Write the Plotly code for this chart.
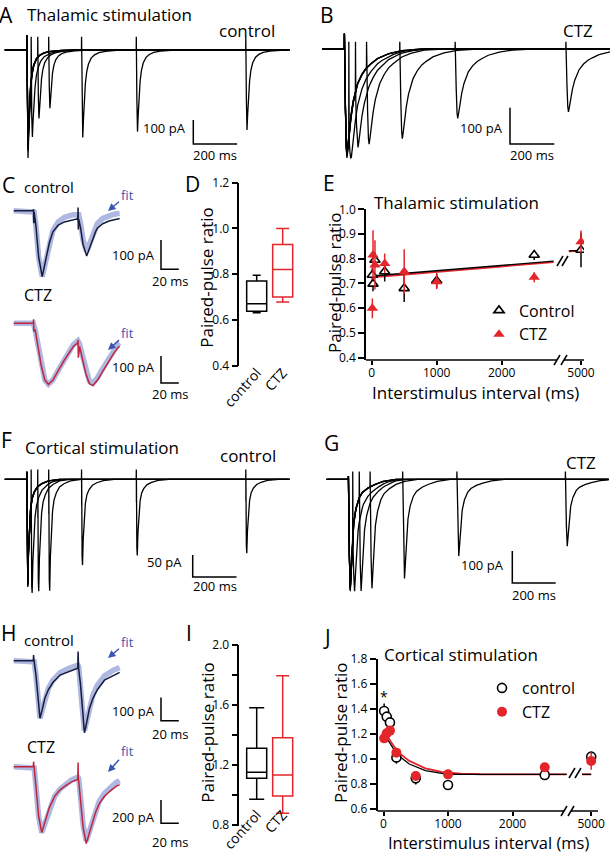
import numpy as np
import plotly.graph_objects as go

W, H = 610, 853
FONT = "Open Sans"
RED = "#e3262b"
CTL_TRACE = "#161c3c"
CTZ_TRACE = "#c0253d"
FIT_COLOR = "#afb8e0"
FIT_TEXT = "#3b55b0"

# ---------------- data ----------------
sweep_intervals = [20, 50, 100, 250, 500, 1000]  # ms (A, B, F, G)
A_amp1 = [450, 420, 400, 380, 410, 390]
A_amp2 = [260, 258, 236, 365, 340, 333]
B_amp1 = [290, 300, 285, 295, 290, 292]
B_amp2 = [120, 175, 218, 243, 191, 173]
F_amp1 = [240, 230, 245, 238, 242, 236]
F_amp2 = [215, 240, 250, 195, 173, 168]
G_amp1 = [344, 350, 340, 345, 338, 342]
G_amp2 = [230, 300, 320, 310, 240, 209]

pair_stims = [0, 50]  # ms (C, H)
C_ctl_amps = [225, 132]
C_ctz_amps = [226, 190]
H_ctl_amps = [247, 285]
H_ctz_amps = [566, 572]

# EPSC shapes: ms after stimulus, fraction of peak
thal_ctl_t = [0, 1, 3, 6, 9, 13, 18, 24, 32, 45, 60, 80, 110, 160, 220]
thal_ctl_f = [0, 0.05, 0.6, 1.0, 0.8, 0.55, 0.38, 0.25, 0.16, 0.09, 0.055, 0.03, 0.015, 0.005, 0]
thal_ctz_t = [0, 2, 5, 9, 12, 16, 22, 30, 40, 60, 80, 100, 120, 150, 200, 260, 350]
thal_ctz_f = [0, 0.15, 0.55, 0.92, 1.0, 0.93, 0.8, 0.64, 0.5, 0.33, 0.24, 0.18, 0.14, 0.09, 0.045, 0.015, 0]
cort_ctl_t = [0, 1, 3, 5, 8, 12, 18, 25, 35, 50, 70, 100, 150]
cort_ctl_f = [0, 0.3, 0.9, 1.0, 0.7, 0.45, 0.28, 0.18, 0.12, 0.07, 0.04, 0.015, 0]
cort_ctz_t = [0, 2, 5, 9, 13, 18, 25, 35, 50, 65, 90, 120, 160, 220]
cort_ctz_f = [0, 0.2, 0.7, 1.0, 0.85, 0.6, 0.4, 0.27, 0.17, 0.12, 0.08, 0.05, 0.02, 0]

Cc_t = [0, 1, 3, 6, 10, 14, 18, 22, 28, 35, 45, 55, 70, 90, 120]
Cc_f = [0, 0.02, 0.24, 0.7, 1.0, 0.75, 0.49, 0.32, 0.22, 0.17, 0.13, 0.11, 0.08, 0.05, 0.02]
Cc_fit = [0, 0.02, 0.24, 0.7, 1.0, 0.78, 0.5, 0.3, 0.17, 0.1, 0.06, 0.04, 0.02, 0.01, 0]
Cz_t = [0, 2, 5, 9, 13, 17, 22, 28, 35, 45, 55, 70, 90, 120]
Cz_f = [0, 0.1, 0.35, 0.7, 0.93, 1.0, 0.93, 0.78, 0.6, 0.38, 0.26, 0.16, 0.09, 0.04]
Cz_fit = [0, 0.1, 0.35, 0.7, 0.93, 1.0, 0.93, 0.77, 0.58, 0.35, 0.22, 0.12, 0.06, 0.02]
Hc_t = [0, 1, 3, 5, 7.5, 10, 13, 17, 22, 30, 40, 50, 60, 80, 100, 140]
Hc_f = [0, 0.02, 0.25, 0.65, 1.0, 0.85, 0.65, 0.5, 0.38, 0.25, 0.19, 0.13, 0.09, 0.05, 0.03, 0.01]
Hc_fit = [0, 0.02, 0.25, 0.65, 1.0, 0.86, 0.66, 0.48, 0.34, 0.21, 0.13, 0.08, 0.05, 0.02, 0.01, 0]
Hz_t = [0, 1, 3, 6, 9.5, 13, 18, 24, 30, 36, 43, 55, 70, 90, 120]
Hz_f = [0, 0.02, 0.3, 0.75, 1.0, 0.85, 0.62, 0.45, 0.35, 0.29, 0.23, 0.17, 0.12, 0.07, 0.03]
Hz_fit = [0, 0.02, 0.3, 0.75, 1.0, 0.86, 0.63, 0.45, 0.34, 0.27, 0.2, 0.13, 0.08, 0.04, 0.01]

# box plots D, I (paired-pulse ratio)
box_cats = ["control", "CTZ"]
D_lower = [0.631, 0.678]; D_q1 = [0.638, 0.70]; D_med = [0.67, 0.82]; D_q3 = [0.77, 0.93]; D_upper = [0.795, 1.0]
I_lower = [0.971, 0.878]; I_q1 = [1.111, 0.993]; I_med = [1.151, 1.133]; I_q3 = [1.311, 1.382]; I_upper = [1.582, 1.795]

# E: thalamic PPR vs interval
E_x = [10, 20, 50, 200, 500, 1000, 2500, 5000]
E_ctl = [0.734, 0.698, 0.795, 0.748, 0.680, 0.711, 0.815, 0.835]
E_ctl_err = [0.03, 0.03, 0.03, 0.04, 0.055, 0.03, 0.02, 0.07]
E_ctz = [0.599, 0.815, 0.775, 0.781, 0.748, 0.707, 0.725, 0.869]
E_ctz_err = [0.04, 0.1, 0.1, 0.04, 0.09, 0.03, 0.02, 0.045]
E_fit_x = [0, 2800, None, 3300, 5000]
E_fit_ctl = [0.730, 0.790, None, 0.832, 0.834]
E_fit_ctz = [0.725, 0.786, None, 0.830, 0.832]

# J: cortical PPR vs interval
J_x = [10, 50, 100, 200, 500, 1000, 2500, 5000]
J_ctl = [1.384, 1.339, 1.293, 1.013, 0.845, 0.792, 0.872, 1.019]
J_ctl_err = [0.06, 0.03, 0.03, 0.05, 0.05, 0.02, 0.02, 0.03]
J_ctz = [1.165, 1.205, 1.227, 1.051, 0.864, 0.877, 0.933, 0.984]
J_ctz_err = [0.03, 0.03, 0.03, 0.03, 0.03, 0.02, 0.02, 0.07]
J_fit_ctl_x = [10, 50, 150, 250, 400, 650, 900, 1100, 1500, 2840, None, 3700, 5000]
J_fit_ctl = [1.20, 1.165, 1.085, 1.02, 0.96, 0.907, 0.885, 0.878, 0.877, 0.877, None, 0.877, 0.877]
J_fit_ctz_x = [10, 50, 150, 250, 400, 650, 900, 1200, 1500, 2840, None, 3700, 5000]
J_fit_ctz = [1.21, 1.19, 1.11, 1.045, 0.985, 0.925, 0.896, 0.883, 0.878, 0.877, None, 0.877, 0.877]

x_ticks = [0, 1000, 2000, 5000]
x_tick_text = ["0", "1000", "2000", "5000"]

# ---------------- helpers ----------------
def xd(a, b): return [a / W, b / W]
def yd(a, b): return [1 - b / H, 1 - a / H]
def PX(x): return x / W
def PY(y): return 1 - y / H
def xn(n): return "x" if n == 1 else f"x{n}"
def yn(n): return "y" if n == 1 else f"y{n}"
def xl(n): return "xaxis" if n == 1 else f"xaxis{n}"
def yl(n): return "yaxis" if n == 1 else f"yaxis{n}"

BRK, BRK_K = 3000, 0.11
def brk(v):
    if v is None:
        return None
    return v if v <= BRK else BRK + (v - BRK) * BRK_K

def build_sweep(stims, amps, tt, ff, t0, t1, art_up, art_dn, absolute, eps):
    tt = np.asarray(tt, float); ff = np.asarray(ff, float)
    ts = {t0, t1}
    for s in stims:
        for d in tt:
            if t0 < s + d < t1:
                ts.add(s + d)
    ts = np.array(sorted(ts))

    def val(t):
        t = np.atleast_1d(np.asarray(t, float))
        v = np.zeros_like(t)
        for s, a in zip(stims, amps):
            v -= a * np.interp(t - s, tt, ff, left=0.0, right=ff[-1])
        return v

    T = list(ts); Y = list(val(ts))
    for s, up, dn in zip(stims, art_up, art_dn):
        if up == 0 and dn == 0:
            continue
        b = float(val(s)[0])
        top = up if absolute else b + up
        T += [s + eps, s + 2 * eps]
        Y += [top, b - dn]
    order = np.argsort(T, kind="stable")
    return np.array(T)[order], np.array(Y)[order]

fig = go.Figure()
layout = {}
shapes = []
ann = []

def text(x, y, s, size=17, xanchor="center", color="black", angle=0):
    ann.append(dict(x=PX(x), y=PY(y), xref="paper", yref="paper", text=s, showarrow=False,
                    xanchor=xanchor, yanchor="middle", textangle=angle,
                    font=dict(family=FONT, size=size, color=color)))

# trace panels calibration: pixel box, stimulus px, px per ms, baseline px, px per pA
TP = {
    "A": dict(n=1, box=(0, 300, 25, 172), P0=26.7, s=0.219, B=50.0, k=0.24),
    "B": dict(n=2, box=(305, 610, 25, 172), P0=344.3, s=0.2215, B=49.0, k=0.363),
    "C1": dict(n=3, box=(8, 190, 195, 290), P0=33.3, s=0.89, B=210.7, k=0.293),
    "C2": dict(n=4, box=(8, 190, 305, 395), P0=33.3, s=0.89, B=323.3, k=0.27),
    "F": dict(n=7, box=(0, 300, 455, 605), P0=26.7, s=0.219, B=479.3, k=0.44),
    "G": dict(n=8, box=(305, 610, 455, 605), P0=348.3, s=0.217, B=479.3, k=0.32),
    "H1": dict(n=9, box=(8, 190, 645, 748), P0=33.3, s=0.89, B=660.7, k=0.233),
    "H2": dict(n=10, box=(8, 190, 750, 853), P0=33.3, s=0.89, B=766.7, k=0.1165),
}
for key, c in TP.items():
    x0, x1, y0, y1 = c["box"]
    n = c["n"]
    layout[xl(n)] = dict(domain=xd(x0, x1), range=[(x0 - c["P0"]) / c["s"], (x1 - c["P0"]) / c["s"]],
                         visible=False, anchor=yn(n), fixedrange=True, automargin=False)
    layout[yl(n)] = dict(domain=yd(y0, y1), range=[(c["B"] - y1) / c["k"], (c["B"] - y0) / c["k"]],
                         visible=False, anchor=xn(n), fixedrange=True, automargin=False)

def line_trace(key, t, y, color, width):
    n = TP[key]["n"]
    fig.add_trace(go.Scatter(x=t, y=y, mode="lines", line=dict(color=color, width=width),
                             xaxis=xn(n), yaxis=yn(n), showlegend=False, hoverinfo="skip"))

def scalebar(key, vx, vy, amp, dur):
    c = TP[key]; n = c["n"]
    t = (vx - c["P0"]) / c["s"]; i = (c["B"] - vy) / c["k"]
    shapes.append(dict(type="path", path=f"M {t},{i + amp} L {t},{i} L {t + dur},{i}",
                       xref=xn(n), yref=yn(n), line=dict(color="black", width=1.5)))

# ---- A, B, F, G sweeps ----
coarse = [
    ("A", A_amp1, A_amp2, thal_ctl_t, thal_ctl_f, 62, 55),
    ("B", B_amp1, B_amp2, thal_ctz_t, thal_ctz_f, 43, 20),
    ("F", F_amp1, F_amp2, cort_ctl_t, cort_ctl_f, 17, 22),
    ("G", G_amp1, G_amp2, cort_ctz_t, cort_ctz_f, 10, 24),
]
for key, a1, a2, tt, ff, art1, art2 in coarse:
    for iv, p1, p2 in zip(sweep_intervals, a1, a2):
        t, y = build_sweep([0, iv], [p1, p2], tt, ff, -100, 1200, [art1, art2], [0, 0], True, 0.5)
        line_trace(key, t, y, "black", 1.3)

# ---- C, H paired traces with fits ----
pairs = [
    ("C1", C_ctl_amps, Cc_t, Cc_f, Cc_fit, CTL_TRACE, [5, 38], [43, 37]),
    ("C2", C_ctz_amps, Cz_t, Cz_f, Cz_fit, CTZ_TRACE, [15, 10], [30, 55]),
    ("H1", H_ctl_amps, Hc_t, Hc_f, Hc_fit, CTL_TRACE, [24, 72], [0, 0]),
    ("H2", H_ctz_amps, Hz_t, Hz_f, Hz_fit, CTZ_TRACE, [43, 146], [0, 0]),
]
for key, amps, tt, ff, ffit, col, up, dn in pairs:
    tf, yf = build_sweep(pair_stims, amps, tt, ffit, -22, 97, [0, 0], [0, 0], False, 0.3)
    line_trace(key, tf, yf, FIT_COLOR, 5.5)
    t, y = build_sweep(pair_stims, amps, tt, ff, -22, 97, up, dn, False, 0.3)
    line_trace(key, t, y, col, 1.5)

# scale bars
scalebar("A", 193.3, 144, 100, 200)
scalebar("B", 510, 144, 100, 200)
scalebar("C1", 161, 269.3, 100, 20)
scalebar("C2", 161, 383, 100, 20)
scalebar("F", 192.7, 577, 50, 200)
scalebar("G", 512.3, 583, 100, 200)
scalebar("H1", 161, 720.7, 100, 20)
scalebar("H2", 161, 823.3, 200, 20)

# ---- box plots D, I ----
def boxes(n, lo, q1, med, q3, up, wws):
    for i, (cat, col) in enumerate(zip(box_cats, ["black", RED])):
        fig.add_trace(go.Box(x=[cat], q1=[q1[i]], median=[med[i]], q3=[q3[i]],
                             lowerfence=[lo[i]], upperfence=[up[i]],
                             line=dict(color=col, width=1.5), fillcolor="rgba(0,0,0,0)",
                             width=0.77, whiskerwidth=wws[i], boxpoints=False,
                             xaxis=xn(n), yaxis=yn(n), showlegend=False, hoverinfo="skip"))

boxes(5, D_lower, D_q1, D_med, D_q3, D_upper, [0.4, 0.65])
boxes(11, I_lower, I_q1, I_med, I_q3, I_upper, [0.75, 0.65])

tickfont = dict(family=FONT, size=12, color="black")
def box_axes(n, ydom, yrange, dtick, tick0, xpos, minor=None):
    layout[xl(n)] = dict(domain=xd(239.3, 305), type="category", range=[-0.669, 1.858],
                         showline=False, ticks="", tickangle=-48, anchor="free", position=PY(xpos),
                         tickfont=dict(family=FONT, size=14, color="black"), showgrid=False,
                         zeroline=False, fixedrange=True, automargin=False)
    ya = dict(domain=yd(*ydom), range=yrange, dtick=dtick, tick0=tick0, tickformat=".1f",
              showline=True, linecolor="black", linewidth=1.5, ticks="outside", ticklen=6,
              tickwidth=1.5, tickcolor="black", tickfont=tickfont, showgrid=False,
              zeroline=False, anchor=xn(n), fixedrange=True, automargin=False)
    if minor:
        ya["minor"] = dict(ticks="outside", dtick=minor, ticklen=6, tickwidth=1.5, tickcolor="black", showgrid=False)
    layout[yl(n)] = ya

box_axes(5, (182.7, 366), [0.398, 1.2], 0.2, 0.4, 361)
box_axes(11, (645, 826), [0.793, 2.0], 0.4, 0.8, 803, minor=0.2)

# ---- E, J scatter panels ----
def ppr_panel(n, xs, ctl, ctl_e, ctz, ctz_e, fx_ctl, fy_ctl, fx_ctz, fy_ctz, sym, names, leg):
    fig.add_trace(go.Scatter(x=[brk(v) for v in fx_ctz], y=fy_ctz, mode="lines",
                             line=dict(color=RED, width=1.8), xaxis=xn(n), yaxis=yn(n),
                             showlegend=False, hoverinfo="skip", connectgaps=False))
    fig.add_trace(go.Scatter(x=[brk(v) for v in fx_ctl], y=fy_ctl, mode="lines",
                             line=dict(color="black", width=1.3), xaxis=xn(n), yaxis=yn(n),
                             showlegend=False, hoverinfo="skip", connectgaps=False))
    fig.add_trace(go.Scatter(x=[brk(v) for v in xs], y=ctl, mode="markers", name=names[0],
                             marker=dict(symbol=sym, size=9, color="white", line=dict(color="black", width=1.6)),
                             error_y=dict(type="data", array=ctl_e, color="black", thickness=1.5, width=0),
                             xaxis=xn(n), yaxis=yn(n), legend=leg, hoverinfo="skip"))
    fig.add_trace(go.Scatter(x=[brk(v) for v in xs], y=ctz, mode="markers", name=names[1],
                             marker=dict(symbol=sym, size=10, color=RED, line=dict(width=0)),
                             error_y=dict(type="data", array=ctz_e, color=RED, thickness=1.5, width=0),
                             xaxis=xn(n), yaxis=yn(n), legend=leg, hoverinfo="skip"))

ppr_panel(6, E_x, E_ctl, E_ctl_err, E_ctz, E_ctz_err, E_fit_x, E_fit_ctl, E_fit_x, E_fit_ctz,
          "triangle-up", ["Control", "CTZ"], "legend")
ppr_panel(12, J_x, J_ctl, J_ctl_err, J_ctz, J_ctz_err, J_fit_ctl_x, J_fit_ctl, J_fit_ctz_x, J_fit_ctz,
          "circle", ["control", "CTZ"], "legend2")

def ppr_axes(n, xdom, xpx0, xscale, ydom, yrange, dtick, tick0):
    x0, x1 = xdom
    layout[xl(n)] = dict(domain=xd(x0, x1), range=[(x0 - xpx0) / xscale, (x1 - xpx0) / xscale],
                         showline=False, ticks="outside", ticklen=4, tickwidth=1.5, tickcolor="black",
                         ticklabelstandoff=-2,
                         tickvals=[brk(v) for v in x_ticks], ticktext=x_tick_text, tickfont=tickfont,
                         showgrid=False, zeroline=False, anchor=yn(n), fixedrange=True, automargin=False)
    layout[yl(n)] = dict(domain=yd(*ydom), range=yrange, dtick=dtick, tick0=tick0, tickformat=".1f",
                         showline=True, linecolor="black", linewidth=1.5, ticks="outside", ticklen=6,
                         tickwidth=1.5, tickcolor="black", tickfont=tickfont, showgrid=False,
                         zeroline=False, anchor=xn(n), fixedrange=True, automargin=False)

ppr_axes(6, (366, 584), 371.7, 0.065, (209.3, 360), [0.39, 1.0], 0.1, 0.4)
ppr_axes(12, (377.5, 598), 383.5, 0.0645, (659, 811), [0.584, 1.8], 0.2, 0.6)

def seg(x0, y0, x1, y1, color="black", width=1.5):
    shapes.append(dict(type="line", x0=PX(x0), y0=PY(y0), x1=PX(x1), y1=PY(y1), xref="paper",
                       yref="paper", line=dict(color=color, width=width)))

# broken x axes
seg(366, 360, 557, 360); seg(564, 360, 584, 360)
seg(554, 365, 560, 355); seg(561, 365, 567, 355)
seg(377.5, 811, 564, 811); seg(571, 811, 598, 811)
seg(561, 816, 567, 806); seg(568, 816, 574, 806)
# breaks on fit lines
seg(557, 266, 563, 256); seg(562, 266, 568, 256)
seg(569, 778, 575, 768); seg(575, 778, 581, 768)

ann.append(dict(x=10, y=1.5, xref="x12", yref="y12", text="*", showarrow=False,
                font=dict(family=FONT, size=14, color="black")))

# ---- texts ----
for s, x, y in [("A", 6, 15), ("B", 327, 15), ("C", 8, 185), ("D", 192, 184), ("E", 329, 183),
                ("F", 6, 440), ("G", 331, 443), ("H", 8, 633), ("I", 189, 633), ("J", 327, 637)]:
    text(x, y, s, size=21)
text(25, 15, "Thalamic stimulation", xanchor="left")
text(247, 30, "control")
text(578, 30, "CTZ")
text(22, 187, "control", size=15, xanchor="left")
text(22, 295, "CTZ", size=16, xanchor="left")
text(372, 203, "Thalamic stimulation", xanchor="left")
text(23, 447, "Cortical stimulation", xanchor="left")
text(248, 455, "control")
text(581, 462, "CTZ")
text(22, 640, "control", size=15, xanchor="left")
text(25, 747, "CTZ", size=16, xanchor="left")
text(382, 654, "Cortical stimulation", xanchor="left")
for x, y in [(206.7, 278), (334, 283), (206.7, 733), (340, 733)]:
    text(x, y, "Paired-pulse ratio", angle=-90)
text(475, 392, "Interstimulus interval (ms)")
text(488, 842.5, "Interstimulus interval (ms)", size=16.5)

# scale bar labels
for s, x, y in [("100 pA", 188, 128), ("100 pA", 505, 128), ("100 pA", 157, 255), ("100 pA", 157, 367),
                ("50 pA", 184, 562), ("100 pA", 506, 565), ("100 pA", 157, 711), ("200 pA", 157, 817)]:
    text(x, y, s, size=13, xanchor="right")
for s, x, y in [("200 ms", 215, 155), ("200 ms", 532, 155), ("20 ms", 170, 281), ("20 ms", 170, 394),
                ("200 ms", 215, 586), ("200 ms", 534, 595), ("20 ms", 170, 734), ("20 ms", 170, 842)]:
    text(x, y, s, size=13)

# "fit" labels with arrows
for tx, ty, hx, hy in [(127, 195, 108, 211), (127, 333, 108, 350), (127, 642, 108, 658), (127, 751, 108, 772)]:
    ann.append(dict(x=PX(hx), y=PY(hy), xref="paper", yref="paper", text="fit", showarrow=True,
                    ax=tx - hx, ay=ty - hy, arrowhead=2, arrowsize=1, arrowwidth=1.5,
                    arrowcolor=FIT_TEXT, font=dict(family=FONT, size=13, color=FIT_TEXT)))

fig.update_layout(
    template="none",
    width=W, height=H, margin=dict(l=0, r=0, t=0, b=0, pad=0, autoexpand=False),
    paper_bgcolor="white", plot_bgcolor="rgba(0,0,0,0)",
    font=dict(family=FONT, color="black"),
    shapes=shapes, annotations=ann,
    legend=dict(x=PX(479), y=PY(322.5), xanchor="left", yanchor="middle", bgcolor="rgba(0,0,0,0)",
                font=dict(family=FONT, size=16, color="black"), itemwidth=30, tracegroupgap=0),
    legend2=dict(x=PX(482), y=PY(700), xanchor="left", yanchor="middle", bgcolor="rgba(0,0,0,0)",
                 font=dict(family=FONT, size=16, color="black"), itemwidth=30, tracegroupgap=0),
    **layout,
)
fig.write_html("out.html", config={"displayModeBar": False},
               post_script="document.body.style.margin='0px';document.body.style.overflow='hidden';")
